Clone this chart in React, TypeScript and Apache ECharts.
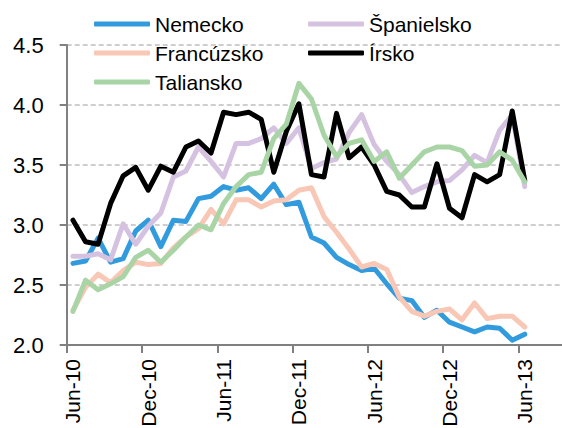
import React, { useEffect, useRef } from "react";
import * as echarts from "echarts";

const months = ["Jan","Feb","Mar","Apr","May","Jun","Jul","Aug","Sep","Oct","Nov","Dec"];
// Jun-10 .. Sep-13 (axis runs a little past the last data point)
const categories: string[] = [];
for (let k = 0; k < 40; k++) {
  const m = (5 + k) % 12;
  const y = 10 + Math.floor((5 + k) / 12);
  categories.push(`${months[m]}-${y}`);
}

const seriesNames = ["Nemecko", "Španielsko", "Francúzsko", "Írsko", "Taliansko"];
const seriesColors = ["#329BDD", "#D5C2E1", "#F8C7B5", "#000000", "#A9D5A6"];

const nemecko = [2.68, 2.70, 2.89, 2.69, 2.72, 2.95, 3.04, 2.82, 3.04, 3.03, 3.22, 3.24, 3.32, 3.29, 3.31, 3.22, 3.34, 3.17, 3.19, 2.90, 2.85, 2.73, 2.67, 2.62, 2.64, 2.51, 2.39, 2.37, 2.23, 2.29, 2.19, 2.15, 2.11, 2.15, 2.14, 2.04, 2.09];
const spanielsko = [2.74, 2.74, 2.76, 2.71, 3.01, 2.84, 2.99, 3.10, 3.40, 3.45, 3.65, 3.53, 3.40, 3.68, 3.68, 3.72, 3.81, 3.68, 3.81, 3.47, 3.52, 3.55, 3.77, 3.92, 3.67, 3.53, 3.42, 3.27, 3.32, 3.36, 3.37, 3.46, 3.58, 3.52, 3.79, 3.92, 3.32];
const francuzsko = [2.29, 2.48, 2.59, 2.52, 2.62, 2.69, 2.67, 2.68, 2.81, 2.90, 2.97, 3.13, 3.01, 3.21, 3.21, 3.15, 3.20, 3.21, 3.29, 3.31, 3.07, 2.94, 2.80, 2.65, 2.68, 2.63, 2.40, 2.28, 2.24, 2.28, 2.30, 2.21, 2.35, 2.22, 2.24, 2.24, 2.15];
const irsko = [3.04, 2.86, 2.84, 3.18, 3.41, 3.48, 3.29, 3.49, 3.44, 3.65, 3.70, 3.60, 3.94, 3.92, 3.94, 3.88, 3.44, 3.78, 4.01, 3.42, 3.40, 3.93, 3.56, 3.65, 3.50, 3.28, 3.25, 3.15, 3.15, 3.51, 3.14, 3.06, 3.42, 3.36, 3.42, 3.95, 3.37];
const taliansko = [2.28, 2.54, 2.46, 2.51, 2.57, 2.73, 2.79, 2.69, 2.79, 2.90, 3.00, 2.96, 3.18, 3.32, 3.42, 3.44, 3.72, 3.84, 4.18, 4.05, 3.75, 3.57, 3.68, 3.71, 3.53, 3.61, 3.39, 3.50, 3.61, 3.65, 3.65, 3.62, 3.49, 3.50, 3.61, 3.54, 3.36];

const seriesData = [nemecko, spanielsko, francuzsko, irsko, taliansko];

const FONT = "'Liberation Sans', Arial, sans-serif";

export default function App() {
  const ref = useRef<HTMLDivElement>(null);
  useEffect(() => {
    if (!ref.current) return;
    const chart = echarts.init(ref.current, null, { renderer: "svg" });
    const legendCommon = {
      orient: "vertical" as const,
      top: 9.5,
      padding: 0,
      itemGap: 0,
      itemWidth: 56,
      itemHeight: 5,
      icon: "roundRect",
      selectedMode: false,
      textStyle: { fontFamily: FONT, fontSize: 21, color: "#000", lineHeight: 29 },
    };
    chart.setOption({
      animation: false,
      textStyle: { fontFamily: FONT },
      legend: [
        { ...legendCommon, left: 94, data: ["Nemecko", "Francúzsko", "Taliansko"] },
        { ...legendCommon, left: 308, data: ["Španielsko", "Írsko"] },
      ],
      grid: { left: 66.7, right: -6.7, top: 45, bottom: 83, containLabel: false, outerBoundsMode: "none" },
      xAxis: {
        type: "category",
        data: categories,
        boundaryGap: true,
        axisLine: { lineStyle: { color: "#808080", width: 2 } },
        axisTick: { show: true, interval: 5, length: 8, lineStyle: { color: "#808080", width: 2 } },
        axisLabel: {
          interval: 5,
          rotate: 90,
          margin: 14,
          fontSize: 21,
          color: "#000",
          fontFamily: FONT,
        },
        splitLine: { show: false },
      },
      yAxis: {
        type: "value",
        min: 2.0,
        max: 4.5,
        interval: 0.5,
        axisLine: { show: true, lineStyle: { color: "#808080", width: 2 } },
        axisTick: { show: true, length: 7, lineStyle: { color: "#808080", width: 2 } },
        axisLabel: {
          margin: 23,
          fontSize: 22,
          color: "#000",
          fontFamily: FONT,
          formatter: (v: number) => v.toFixed(1),
        },
        splitLine: { show: true, lineStyle: { color: "#BEBEBE", width: 1.5, type: [5, 3] } },
      },
      series: seriesNames.map((name, i) => ({
        name,
        type: "line",
        data: seriesData[i],
        symbol: "none",
        showSymbol: false,
        color: seriesColors[i],
        lineStyle: { color: seriesColors[i], width: 5, cap: "round", join: "round" },
      })),
    });
    return () => chart.dispose();
  }, []);
  return (
    <div
      ref={ref}
      style={{ position: "fixed", left: 0, top: 0, width: 562, height: 428, background: "#fff" }}
    />
  );
}
